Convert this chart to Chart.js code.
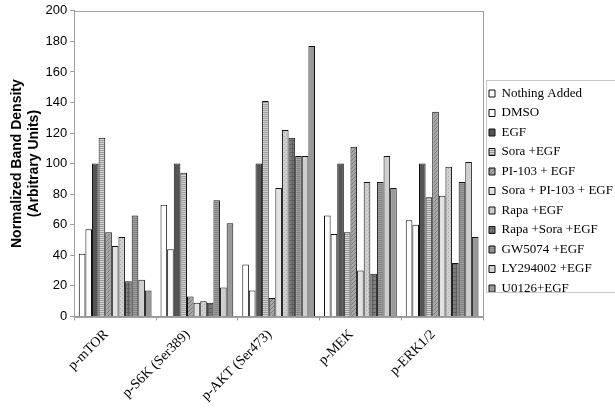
<!DOCTYPE html>
<html>
<head>
<meta charset="utf-8">
<script src="https://cdn.jsdelivr.net/npm/chart.js@4"></script>
<style>
  body { margin: 0; background: #fff; }
  #wrap { width: 615px; height: 410px; }
</style>
</head>
<body>
<div id="wrap"><canvas id="bandChart" width="615" height="410"></canvas></div>
<script>
const proteins = ['p-mTOR', 'p-S6K (Ser389)', 'p-AKT (Ser473)', 'p-MEK', 'p-ERK1/2'];
const treatments = ['Nothing Added', 'DMSO', 'EGF', 'Sora +EGF', 'PI-103 + EGF', 'Sora + PI-103 + EGF',
    'Rapa +EGF', 'Rapa +Sora +EGF', 'GW5074 +EGF', 'LY294002 +EGF', 'U0126+EGF'];

// one array per treatment, values in protein order
const nothingAdded = [41, 73, 34, 66, 63];
const dmso = [57, 44, 17, 54, 60];
const egf = [100, 100, 100, 100, 100];
const soraEgf = [117, 94, 141, 55, 78];
const pi103Egf = [55, 13, 12, 111, 134];
const soraPiEgf = [46, 9, 84, 30, 79];
const rapaEgf = [52, 10, 122, 88, 98];
const rapaSoraEgf = [23, 9, 117, 28, 35];
const gwEgf = [66, 76, 105, 88, 88];
const lyEgf = [24, 19, 105, 105, 101];
const u0126Egf = [17, 61, 177, 84, 52];

const yTicks = [0, 20, 40, 60, 80, 100, 120, 140, 160, 180, 200];

const ctx = document.getElementById('bandChart').getContext('2d');

const makePattern = (bg, fg, kind) => {
    const c = document.createElement('canvas');
    c.width = 4;
    c.height = 4;
    const p = c.getContext('2d');
    p.fillStyle = bg;
    p.fillRect(0, 0, 4, 4);
    p.fillStyle = fg;
    if (kind === 'hline') {
        p.fillRect(0, 0, 4, 1);
        p.fillRect(0, 2, 4, 1);
    } else if (kind === 'diag') {
        for (let i = 0; i < 4; i++) p.fillRect(i, 3 - i, 1, 1);
    } else if (kind === 'dots') {
        p.fillRect(0, 0, 1, 1);
        p.fillRect(2, 2, 1, 1);
    } else if (kind === 'grid') {
        p.fillRect(0, 0, 4, 1);
        p.fillRect(0, 0, 1, 4);
    }
    return ctx.createPattern(c, 'repeat');
};

const fills = [
    '#ffffff',
    '#fafafa',
    '#555555',
    makePattern('#d6d6d6', '#9a9a9a', 'hline'),
    makePattern('#a8a8a8', '#777777', 'diag'),
    '#e2e2e2',
    makePattern('#d0d0d0', '#aaaaaa', 'dots'),
    makePattern('#7a7a7a', '#5e5e5e', 'grid'),
    makePattern('#a0a0a0', '#808080', 'hline'),
    '#cfcfcf',
    '#999999'
];
const seriesData = [nothingAdded, dmso, egf, soraEgf, pi103Egf, soraPiEgf, rapaEgf, rapaSoraEgf, gwEgf, lyEgf, u0126Egf];

const frame = {
    id: 'frame',
    afterLayout(chart) {
        // pull the legend block up so it sits a bit above centre, like the original
        chart.legend.bottom -= 30;
        chart.legend.left -= 0.5;
    },
    afterDraw(chart) {
        const c = chart.ctx;
        const a = chart.chartArea;
        c.save();
        c.strokeStyle = '#a0a0a0';
        c.lineWidth = 1;
        c.strokeRect(Math.round(a.left) + 0.5, Math.round(a.top) + 0.5, Math.round(a.right - a.left), Math.round(a.bottom - a.top));
        c.strokeStyle = '#c8c8c8';
        c.strokeRect(486.5, 80.5, 130, 212);
        c.restore();
    }
};

new Chart(ctx, {
    type: 'bar',
    data: {
        labels: proteins,
        datasets: treatments.map((t, i) => ({
            label: t,
            data: seriesData[i],
            backgroundColor: fills[i],
            borderColor: '#111111',
            borderWidth: 1,
            categoryPercentage: 0.89,
            barPercentage: 1.0
        }))
    },
    options: {
        responsive: false,
        devicePixelRatio: 1,
        animation: false,
        layout: { padding: { top: 2, right: 0, left: 0, bottom: 0 } },
        plugins: {
            tooltip: { enabled: false },
            legend: {
                position: 'right',
                align: 'center',
                maxWidth: 132,
                labels: {
                    color: '#000',
                    font: { family: 'Liberation Serif', size: 13 },
                    boxWidth: 6,
                    boxHeight: 7,
                    padding: 6.5
                }
            }
        },
        scales: {
            x: {
                grid: { offset: true, drawOnChartArea: false, tickLength: 4, color: '#999' },
                border: { color: '#999' },
                ticks: {
                    color: '#000',
                    font: { family: 'Liberation Serif', size: 14 },
                    minRotation: 45,
                    maxRotation: 45,
                    labelOffset: -9,
                    padding: 6
                }
            },
            y: {
                min: 0,
                max: 200,
                afterBuildTicks: axis => { axis.ticks = yTicks.map(v => ({ value: v })); },
                grid: { drawOnChartArea: false, tickLength: 4, color: '#999' },
                border: { color: '#999' },
                ticks: {
                    color: '#000',
                    font: { family: 'Liberation Sans', size: 13 }
                },
                title: {
                    display: true,
                    text: ['Normalized Band Density', '(Arbitrary Units)'],
                    color: '#000',
                    font: { family: 'Liberation Sans', size: 14, weight: 'bold' },
                    padding: { top: 9, bottom: 0 }
                }
            }
        }
    },
    plugins: [frame]
});
</script>
</body>
</html>
